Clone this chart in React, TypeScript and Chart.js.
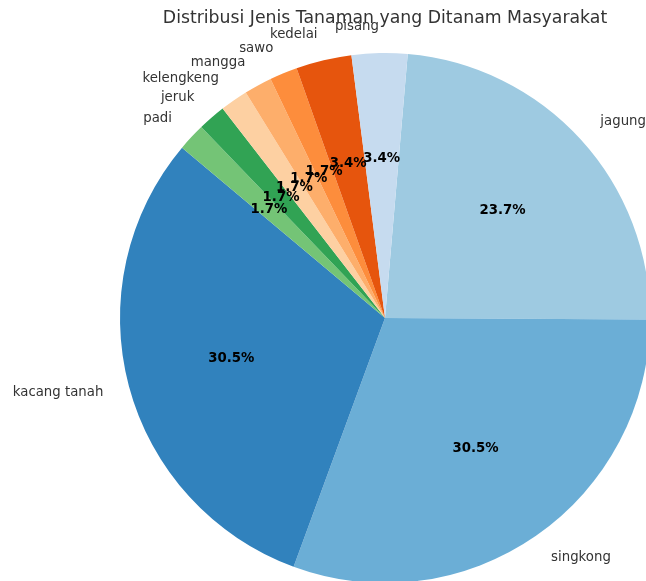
import React, { useEffect, useRef } from "react";
import { Chart, registerables } from "chart.js";

Chart.register(...registerables);

const titleText = "Distribusi Jenis Tanaman yang Ditanam Masyarakat";
const categories = ["jagung", "singkong", "kacang tanah", "padi", "jeruk", "kelengkeng", "mangga", "sawo", "kedelai", "pisang"];
const counts = [14, 18, 18, 1, 1, 1, 1, 1, 2, 2];
const colors = ["#9ecae1", "#6baed6", "#3182bd", "#74c476", "#31a354", "#fdd0a2", "#fdae6b", "#fd8d3c", "#e6550d", "#c6dbef"];

const FONT = "'DejaVu Sans', sans-serif";

const labelPlugin = {
  id: "mplLabels",
  afterDraw(chart: any) {
    const ctx = chart.ctx;
    const meta = chart.getDatasetMeta(0);
    const data = chart.data.datasets[0].data as number[];
    const total = data.reduce((a, b) => a + b, 0);
    ctx.save();
    meta.data.forEach((arc: any, i: number) => {
      const { x, y, startAngle, endAngle, outerRadius } = arc.getProps(["x", "y", "startAngle", "endAngle", "outerRadius"], true);
      const mid = (startAngle + endAngle) / 2;
      const cx = Math.cos(mid);
      const cy = Math.sin(mid);
      const lx = x + outerRadius * 1.1 * cx;
      const ly = y + outerRadius * 1.1 * cy;
      ctx.font = `13.3px ${FONT}`;
      ctx.fillStyle = "#333333";
      ctx.textBaseline = "middle";
      ctx.textAlign = cx >= 0 ? "left" : "right";
      ctx.fillText(chart.data.labels[i], lx, ly);
      const px = x + outerRadius * 0.6 * cx;
      const py = y + outerRadius * 0.6 * cy;
      ctx.font = `bold 13.3px ${FONT}`;
      ctx.fillStyle = "#000000";
      ctx.textAlign = "center";
      ctx.fillText(((data[i] / total) * 100).toFixed(1) + "%", px, py);
    });
    ctx.font = `17.3px ${FONT}`;
    ctx.fillStyle = "#333333";
    ctx.textAlign = "center";
    ctx.textBaseline = "middle";
    ctx.fillText(titleText, 385, 19);
    ctx.restore();
  },
};

export default function App() {
  const ref = useRef<HTMLCanvasElement | null>(null);
  useEffect(() => {
    document.body.style.margin = "0";
    if (!ref.current) return;
    const chart = new Chart(ref.current, {
      type: "pie",
      data: {
        labels: categories,
        datasets: [
          {
            data: counts,
            backgroundColor: colors,
            borderWidth: 0,
            hoverOffset: 0,
            offset: 0,
            radius: 265,
            rotation: 4.92,
            clip: false,
          } as any,
        ],
      },
      options: {
        responsive: false,
        animation: false,
        radius: 265,
        rotation: 4.92,
        layout: { padding: { left: 124, right: 0, top: 55, bottom: 0 } },
        plugins: {
          legend: { display: false },
          tooltip: { enabled: false },
          title: { display: false },
        },
      } as any,
      plugins: [labelPlugin],
    });
    return () => chart.destroy();
  }, []);
  return (
    <div style={{ position: "fixed", left: 0, top: 0, width: 646, height: 581, background: "#fff" }}>
      <canvas ref={ref} width={646} height={581} />
    </div>
  );
}
